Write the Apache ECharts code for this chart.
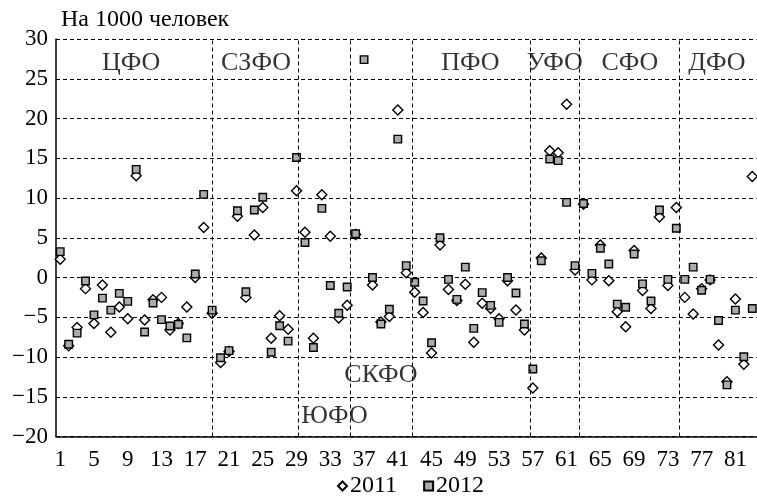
<!DOCTYPE html>
<html><head><meta charset="utf-8">
<script src="https://cdn.jsdelivr.net/npm/echarts@6/dist/echarts.min.js"></script>
<style>html,body{margin:0;padding:0;background:#fff}#c{width:757px;height:500px}</style>
</head><body><div id="c"></div>
<script>
const regions = Array.from({length: 83}, (_, i) => i + 1);
const values2011 = [2.3,-8.6,-6.3,-1.4,-5.8,-0.95,-6.9,-3.7,-5.2,12.8,
 -5.35,-2.8,-2.5,-6.6,-5.8,-3.7,0.0,6.3,-4.5,-10.7,
 -9.3,7.7,-2.5,5.35,8.8,-7.65,-4.8,-6.5,10.9,5.7,
 -7.65,10.4,5.2,-5.1,-3.5,5.4,null,-0.95,-5.6,-4.9,
 21.07,0.6,-1.87,-4.4,-9.5,4.1,-1.5,-2.9,-0.86,-8.15,
 -3.25,-3.9,-5.2,-0.4,-4.1,-6.6,-13.9,2.45,15.95,15.7,
 21.8,0.95,9.2,-0.3,4.1,-0.4,-4.3,-6.2,3.4,-1.65,
 -3.9,7.6,-1.0,8.8,-2.5,-4.6,-1.4,-0.3,-8.5,-13.1,
 -2.7,-10.9,12.7];
const values2012 = [3.25,-8.4,-7.0,-0.44,-4.7,-2.6,-4.1,-2.0,-3.0,13.6,
 -6.86,-3.2,-5.3,-6.1,-5.9,-7.6,0.44,10.46,-4.1,-10.1,
 -9.2,8.4,-1.8,8.5,10.1,-9.4,-6.06,-8.0,15.1,4.4,
 -8.8,8.7,-1.0,-4.5,-1.2,5.5,27.4,0.0,-5.85,-4.0,
 17.4,1.5,-0.6,-2.96,-8.2,5.0,-0.23,-2.75,1.3,-6.4,
 -1.9,-3.5,-5.64,0.0,-1.95,-5.85,-11.5,2.1,14.9,14.7,
 9.45,1.5,9.3,0.52,3.67,1.7,-3.35,-3.75,2.95,-0.8,
 -2.95,8.5,-0.23,6.2,-0.23,1.3,-1.6,-0.23,-5.4,-13.5,
 -4.1,-9.96,-3.9];
const xTickLabels = [1,5,9,13,17,21,25,29,33,37,41,45,49,53,57,61,65,69,73,77,81];
const districtBounds = [19, 29.2, 35.4, 42.75, 56.7, 62.55, 74.4];
const districtNames = ['ЦФО','СЗФО','ЮФО','СКФО','ПФО','УФО','СФО','ДФО'];
const districtLabelX = [9.4, 24.2, 33.5, 39.0, 49.6, 59.6, 68.5, 78.8];
const districtLabelY = [27.0, 27.0, -17.4, -12.3, 27.0, 27.0, 27.0, 27.0];

const FONT = 'Liberation Serif';
const chart = echarts.init(document.getElementById('c'));
chart.setOption({
  animation: false,
  textStyle: {fontFamily: FONT, color: '#000'},
  title: {text: 'На 1000 человек', left: 56, top: 3,
    textStyle: {fontFamily: FONT, fontSize: 24, fontWeight: 'normal', color: '#000'}},
  grid: {left: 56, right: 0.5, top: 39, bottom: 63.5},
  legend: {bottom: -3, left: 332, itemWidth: 9, itemHeight: 9, itemGap: 26,
    textStyle: {fontFamily: FONT, fontSize: 24, color: '#000', padding: [0,0,0,-2]},
    data: [{name: '2011', icon: 'diamond'}, {name: '2012', icon: 'rect'}]},
  xAxis: {type: 'value', min: 0.5, max: 83.5,
    axisLine: {show: true, onZero: false, lineStyle: {color: '#000', width: 1.5}},
    axisTick: {show: false},
    splitLine: {show: false},
    axisLabel: {customValues: xTickLabels, fontFamily: FONT, fontSize: 23, color: '#000', margin: 12,
      formatter: v => String(v)}},
  yAxis: {type: 'value', min: -20, max: 30, interval: 5,
    axisLine: {show: true, onZero: false, lineStyle: {color: '#000', width: 1.5}},
    axisTick: {show: false},
    splitLine: {show: true, lineStyle: {color: '#000', type: [4, 3], width: 1}},
    axisLabel: {fontFamily: FONT, fontSize: 23, color: '#000', margin: 8,
      formatter: v => String(v).replace('-', '\u2212')}},
  series: [
    {name: '2011', type: 'scatter', symbol: 'diamond', symbolSize: 10,
     itemStyle: {color: '#fff', borderColor: '#000', borderWidth: 1.4, opacity: 1},
     data: regions.map((r, i) => [r, values2011[i]]),
     markLine: {silent: true, symbol: 'none', label: {show: false},
       lineStyle: {color: '#000', type: [4, 3], width: 1},
       data: districtBounds.map(b => ({xAxis: b}))}},
    {name: '2012', type: 'scatter', symbol: 'rect', symbolSize: 7.5,
     itemStyle: {color: '#ababab', borderColor: '#000', borderWidth: 1.4, opacity: 1},
     data: regions.map((r, i) => [r, values2012[i]])},
    {name: 'districts', type: 'scatter', symbolSize: 0, silent: true,
     data: districtNames.map((n, i) => ({name: n, value: [districtLabelX[i], districtLabelY[i]]})),
     label: {show: true, position: 'inside', formatter: p => p.name,
       fontFamily: FONT, fontSize: 26, color: '#000'}}
  ]
});
</script></body></html>
